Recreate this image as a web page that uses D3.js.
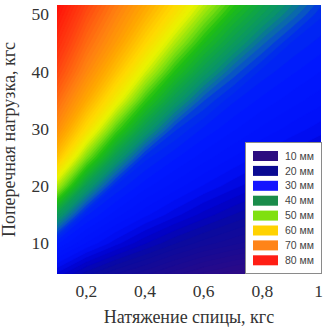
<!DOCTYPE html>
<html><head><meta charset="utf-8">
<script src="https://cdn.jsdelivr.net/npm/d3@7"></script>
<style>body{margin:0;background:#fff}svg{display:block}</style>
</head><body>
<svg id="chart" width="327" height="327"></svg>
<script>
// Spoke tension (kgf) sample columns
const tension = [0.1, 0.2, 0.3, 0.4, 0.5, 0.6, 0.7, 0.8, 0.9, 1.0];
// Transverse load (kgf) sample rows
const load = [4.6, 10, 15, 20, 25, 30, 35, 40, 45, 50, 51.6];
// Deflection (mm), one row per load value
const deflection = [
  [23.7, 20.4, 18.0, 16.3, 14.4, 12.7, 11.4, 10.6, 10.1, 9.7],
  [30.2, 27.0, 24.4, 22.1, 20.1, 18.5, 17.3, 16.2, 15.0, 13.8],
  [39.9, 31.2, 28.5, 26.3, 24.4, 22.6, 21.0, 19.6, 18.5, 17.5],
  [52.3, 39.9, 31.9, 29.4, 27.6, 25.9, 24.4, 22.9, 21.6, 20.4],
  [62.9, 49.9, 39.9, 32.4, 30.2, 28.5, 27.0, 25.6, 24.4, 23.2],
  [69.9, 59.2, 48.1, 39.9, 33.3, 30.8, 29.2, 27.8, 26.6, 25.5],
  [74.8, 65.9, 56.6, 46.9, 39.9, 34.1, 31.2, 29.7, 28.5, 27.4],
  [79.3, 70.9, 62.9, 54.2, 45.9, 39.9, 34.8, 31.6, 30.2, 29.0],
  [83.2, 74.8, 67.9, 60.3, 52.4, 45.2, 40.0, 35.3, 31.9, 30.6],
  [86.9, 78.4, 71.6, 65.1, 58.3, 51.0, 44.6, 40.0, 35.8, 32.2],
  [88.0, 79.6, 72.7, 66.4, 59.8, 52.8, 46.3, 41.3, 37.1, 33.1]
];
const xTicks = [0.2, 0.4, 0.6, 0.8, 1];
const yTicks = [10, 20, 30, 40, 50];
const legendLabels = ["10 мм", "20 мм", "30 мм", "40 мм", "50 мм", "60 мм", "70 мм", "80 мм"];
const legendColors = ["#2c0c80", "#0a0a92", "#1414ff", "#1a8c4a", "#80e010", "#ffd200", "#ff8418", "#ff1e14"];
const fieldStops = [8, 11, 16, 20, 23, 26, 30, 33, 35, 38, 42, 46, 50, 55, 60, 66, 72, 80, 88];
const fieldColors = ["#3c0a78", "#2e0a85", "#1a0a92", "#0a0aa0", "#0000cc", "#0010f8", "#0018ff", "#0030e8", "#0a60b8",
                     "#089070", "#10a840", "#20c010", "#80e010", "#e8f400", "#ffd800", "#ffa800", "#ff8010", "#ff4010", "#ff1008"];

const svg = d3.select("#chart");
const plot = {left: 57, right: 321, top: 5, bottom: 274};
const x = d3.scaleLinear().domain([0.1, 1.0]).range([plot.left, plot.right]);
const y = d3.scaleLinear().domain([4.6, 51.6]).range([plot.bottom, plot.top]);
const color = d3.scaleLinear().domain(fieldStops).range(fieldColors).clamp(true);

const nx = tension.length, ny = load.length;
const ix = d3.scaleLinear().domain(d3.range(nx)).range(tension);
const iy = d3.scaleLinear().domain(d3.range(ny)).range(load);
const values = deflection.flat();

const step = 1;
const thresholds = d3.range(4, 100, step);
const contours = d3.contours().size([nx, ny]).smooth(true).thresholds(thresholds)(values);

const proj = d3.geoTransform({
  point(cx, cy) {
    const gi = Math.max(0, Math.min(nx - 1, cx - 0.5));
    const gj = Math.max(0, Math.min(ny - 1, cy - 0.5));
    this.stream.point(x(ix(gi)), y(iy(gj)));
  }
});
const path = d3.geoPath(proj);

svg.append("defs").append("clipPath").attr("id", "clip")
  .append("rect").attr("x", plot.left).attr("y", plot.top)
  .attr("width", plot.right - plot.left).attr("height", plot.bottom - plot.top);

svg.append("g").attr("clip-path", "url(#clip)")
  .selectAll("path").data(contours).join("path")
  .attr("d", path)
  .attr("fill", d => color(d.value + step / 2))
  .attr("stroke", d => color(d.value + step / 2))
  .attr("stroke-width", 0.6);

const fmt = v => (v === 1 ? "1" : String(v).replace(".", ","));
const serif = "'Liberation Serif', 'Times New Roman', serif";

svg.append("g").selectAll("text").data(xTicks).join("text")
  .attr("x", d => x(d)).attr("y", 297)
  .attr("text-anchor", d => d === 1 ? "end" : "middle")
  .attr("dx", d => d === 1 ? 2 : 0)
  .attr("font-family", serif).attr("font-size", 17.5).attr("fill", "#333")
  .text(fmt);

svg.append("g").selectAll("text").data(yTicks).join("text")
  .attr("x", 49).attr("y", d => y(d)).attr("dy", "0.35em")
  .attr("text-anchor", "end")
  .attr("font-family", serif).attr("font-size", 17.5).attr("fill", "#333")
  .text(d => d);

svg.append("text")
  .attr("x", (plot.left + plot.right) / 2).attr("y", 323)
  .attr("text-anchor", "middle")
  .attr("font-family", serif).attr("font-size", 18).attr("fill", "#333")
  .text("Натяжение спицы, кгс");

svg.append("text")
  .attr("transform", `translate(15,${(plot.top + plot.bottom) / 2}) rotate(-90)`)
  .attr("text-anchor", "middle")
  .attr("font-family", serif).attr("font-size", 18).attr("fill", "#333")
  .text("Поперечная нагрузка, кгс");

// Legend
const lg = svg.append("g");
lg.append("rect").attr("x", 245.5).attr("y", 142.5).attr("width", 76).attr("height", 131)
  .attr("fill", "#fff").attr("stroke", "#8a8a8a").attr("stroke-width", 1);
const rows = lg.selectAll("g.row").data(legendLabels).join("g").attr("class", "row")
  .attr("transform", (d, i) => `translate(0,${156 + i * 14.9})`);
rows.append("rect").attr("x", 253).attr("y", -5).attr("width", 25).attr("height", 10)
  .attr("fill", (d, i) => legendColors[i]);
rows.append("text").attr("x", 285).attr("y", 0).attr("dy", "0.35em")
  .attr("font-family", "'Liberation Sans', Arial, sans-serif").attr("font-size", 10.5).attr("fill", "#444")
  .text(d => d);
</script>
</body></html>
